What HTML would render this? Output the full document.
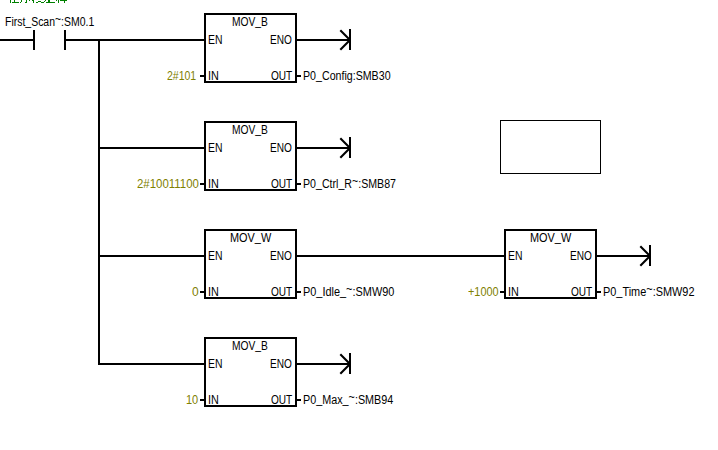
<!DOCTYPE html>
<html><head><meta charset="utf-8"><style>
html,body{margin:0;padding:0;background:#fff;width:718px;height:450px;overflow:hidden;position:relative}
.ln{position:absolute;background:#000}
.box{position:absolute;width:93px;height:70px;border:2px solid #000;box-sizing:border-box}
.rect{position:absolute;left:500px;top:120px;width:101px;height:54px;border:1px solid #000;box-sizing:border-box}
.t{position:absolute;font-family:"Liberation Sans",sans-serif;font-size:12px;line-height:14px;color:#000;white-space:nowrap;transform-origin:0 0}
.ar{position:absolute}
i{font-style:normal;position:relative}
.tl{top:-3px}
.us{top:-1px}
</style></head><body>
<div class="ln" style="left:0px;top:39px;width:35px;height:2px"></div>
<div class="ln" style="left:33px;top:30px;width:2px;height:20px"></div>
<div class="ln" style="left:64px;top:30px;width:2px;height:20px"></div>
<div class="ln" style="left:64px;top:39px;width:141px;height:2px"></div>
<div class="ln" style="left:98px;top:39px;width:2px;height:326px"></div>
<div class="ln" style="left:98px;top:147px;width:107px;height:2px"></div>
<div class="ln" style="left:98px;top:255px;width:107px;height:2px"></div>
<div class="ln" style="left:98px;top:363px;width:107px;height:2px"></div>
<div class="ln" style="left:297px;top:39px;width:54px;height:2px"></div>
<svg class="ar" style="left:337px;top:27px" width="16" height="26" viewBox="0 0 16 26"><path d="M3.3 3.3 L12.5 12.5 M3.3 22.7 L12.5 13.5" stroke="#000" stroke-width="2.1" fill="none"/><rect x="12" y="2" width="2" height="21"/></svg>
<div class="ln" style="left:297px;top:147px;width:54px;height:2px"></div>
<svg class="ar" style="left:337px;top:135px" width="16" height="26" viewBox="0 0 16 26"><path d="M3.3 3.3 L12.5 12.5 M3.3 22.7 L12.5 13.5" stroke="#000" stroke-width="2.1" fill="none"/><rect x="12" y="2" width="2" height="21"/></svg>
<div class="ln" style="left:297px;top:363px;width:54px;height:2px"></div>
<svg class="ar" style="left:337px;top:351px" width="16" height="26" viewBox="0 0 16 26"><path d="M3.3 3.3 L12.5 12.5 M3.3 22.7 L12.5 13.5" stroke="#000" stroke-width="2.1" fill="none"/><rect x="12" y="2" width="2" height="21"/></svg>
<div class="ln" style="left:297px;top:255px;width:208px;height:2px"></div>
<div class="ln" style="left:597px;top:255px;width:54px;height:2px"></div>
<svg class="ar" style="left:637px;top:243px" width="16" height="26" viewBox="0 0 16 26"><path d="M3.3 3.3 L12.5 12.5 M3.3 22.7 L12.5 13.5" stroke="#000" stroke-width="2.1" fill="none"/><rect x="12" y="2" width="2" height="21"/></svg>
<div class="box" style="left:204px;top:13px"></div>
<div class="ln" style="left:200px;top:75px;width:4px;height:2px"></div>
<div class="ln" style="left:297px;top:75px;width:4px;height:2px"></div>
<div class="box" style="left:204px;top:121px"></div>
<div class="ln" style="left:200px;top:183px;width:4px;height:2px"></div>
<div class="ln" style="left:297px;top:183px;width:4px;height:2px"></div>
<div class="box" style="left:204px;top:229px"></div>
<div class="ln" style="left:200px;top:291px;width:4px;height:2px"></div>
<div class="ln" style="left:297px;top:291px;width:4px;height:2px"></div>
<div class="box" style="left:504px;top:229px"></div>
<div class="ln" style="left:500px;top:291px;width:4px;height:2px"></div>
<div class="ln" style="left:597px;top:291px;width:4px;height:2px"></div>
<div class="box" style="left:204px;top:337px"></div>
<div class="ln" style="left:200px;top:399px;width:4px;height:2px"></div>
<div class="ln" style="left:297px;top:399px;width:4px;height:2px"></div>
<div class="rect"></div>
<span class="t" id="t0" style="left:5.00px;top:15.00px;transform:scaleX(0.8713)">First<i class="us">_</i>Scan<i class="tl">~</i>:SM0.1</span>
<span class="t" id="t1" style="left:232.00px;top:15.00px;transform:scaleX(0.8543)">MOV<i class="us">_</i>B</span>
<span class="t" id="t2" style="left:208.00px;top:33.00px;transform:scaleX(0.8667)">EN</span>
<span class="t" id="t3" style="left:270.00px;top:33.00px;transform:scaleX(0.8400)">ENO</span>
<span class="t" id="t4" style="left:208.00px;top:69.00px;transform:scaleX(0.9000)">IN</span>
<span class="t" id="t5" style="left:271.00px;top:69.00px;transform:scaleX(0.8400)">OUT</span>
<span class="t" id="t6" style="left:167.00px;top:69.00px;transform:scaleX(0.8750);color:#808000">2#101</span>
<span class="t" id="t7" style="left:303.00px;top:69.00px;transform:scaleX(0.8866)">P0<i class="us">_</i>Config:SMB30</span>
<span class="t" id="t8" style="left:232.00px;top:123.00px;transform:scaleX(0.8543)">MOV<i class="us">_</i>B</span>
<span class="t" id="t9" style="left:208.00px;top:141.00px;transform:scaleX(0.8667)">EN</span>
<span class="t" id="t10" style="left:270.00px;top:141.00px;transform:scaleX(0.8400)">ENO</span>
<span class="t" id="t11" style="left:208.00px;top:177.00px;transform:scaleX(0.9000)">IN</span>
<span class="t" id="t12" style="left:271.00px;top:177.00px;transform:scaleX(0.8400)">OUT</span>
<span class="t" id="t13" style="left:137.00px;top:177.00px;transform:scaleX(0.9524);color:#808000">2#10011100</span>
<span class="t" id="t14" style="left:303.00px;top:177.00px;transform:scaleX(0.8846)">P0<i class="us">_</i>Ctrl<i class="us">_</i>R<i class="tl">~</i>:SMB87</span>
<span class="t" id="t15" style="left:230.00px;top:231.00px;transform:scaleX(0.9091)">MOV<i class="us">_</i>W</span>
<span class="t" id="t16" style="left:208.00px;top:249.00px;transform:scaleX(0.8667)">EN</span>
<span class="t" id="t17" style="left:270.00px;top:249.00px;transform:scaleX(0.8400)">ENO</span>
<span class="t" id="t18" style="left:208.00px;top:285.00px;transform:scaleX(0.9000)">IN</span>
<span class="t" id="t19" style="left:271.00px;top:285.00px;transform:scaleX(0.8400)">OUT</span>
<span class="t" id="t20" style="left:192.00px;top:285.00px;transform:scaleX(1.0000);color:#808000">0</span>
<span class="t" id="t21" style="left:303.00px;top:285.00px;transform:scaleX(0.9091)">P0<i class="us">_</i>Idle<i class="us">_</i><i class="tl">~</i>:SMW90</span>
<span class="t" id="t22" style="left:530.00px;top:231.00px;transform:scaleX(0.9091)">MOV<i class="us">_</i>W</span>
<span class="t" id="t23" style="left:508.00px;top:249.00px;transform:scaleX(0.8667)">EN</span>
<span class="t" id="t24" style="left:570.00px;top:249.00px;transform:scaleX(0.8400)">ENO</span>
<span class="t" id="t25" style="left:508.00px;top:285.00px;transform:scaleX(0.9000)">IN</span>
<span class="t" id="t26" style="left:571.00px;top:285.00px;transform:scaleX(0.8400)">OUT</span>
<span class="t" id="t27" style="left:468.00px;top:285.00px;transform:scaleX(0.9062);color:#808000">+1000</span>
<span class="t" id="t28" style="left:603.00px;top:285.00px;transform:scaleX(0.9091)">P0<i class="us">_</i>Time<i class="tl">~</i>:SMW92</span>
<span class="t" id="t29" style="left:232.00px;top:339.00px;transform:scaleX(0.8543)">MOV<i class="us">_</i>B</span>
<span class="t" id="t30" style="left:208.00px;top:357.00px;transform:scaleX(0.8667)">EN</span>
<span class="t" id="t31" style="left:270.00px;top:357.00px;transform:scaleX(0.8400)">ENO</span>
<span class="t" id="t32" style="left:208.00px;top:393.00px;transform:scaleX(0.9000)">IN</span>
<span class="t" id="t33" style="left:271.00px;top:393.00px;transform:scaleX(0.8400)">OUT</span>
<span class="t" id="t34" style="left:186.00px;top:393.00px;transform:scaleX(0.9167);color:#808000">10</span>
<span class="t" id="t35" style="left:303.00px;top:393.00px;transform:scaleX(0.8990)">P0<i class="us">_</i>Max<i class="us">_</i><i class="tl">~</i>:SMB94</span>
<svg class="gc" style="position:absolute;left:0;top:0" width="70" height="4" fill="#008000"><rect x="10" y="0" width="1" height="3"/><rect x="14" y="0" width="1" height="2"/><rect x="12" y="2" width="7" height="1"/><rect x="21" y="0" width="1" height="2"/><rect x="20" y="2" width="1" height="1"/><rect x="26" y="0" width="1" height="2"/><rect x="25" y="2" width="2" height="1"/><rect x="29" y="0" width="1" height="1"/><rect x="32" y="0" width="2" height="1"/><rect x="33" y="1" width="1" height="2"/><rect x="36" y="2" width="2" height="1"/><rect x="38" y="1" width="3" height="1"/><rect x="41" y="2" width="3" height="1"/><rect x="45" y="0" width="1" height="1"/><rect x="44" y="1" width="1" height="1"/><rect x="46" y="2" width="9" height="1"/><rect x="48" y="0" width="2" height="2"/><rect x="56" y="0" width="1" height="1"/><rect x="58" y="0" width="1" height="3"/><rect x="60" y="0" width="7" height="1"/><rect x="64" y="1" width="1" height="2"/></svg>
</body></html>
